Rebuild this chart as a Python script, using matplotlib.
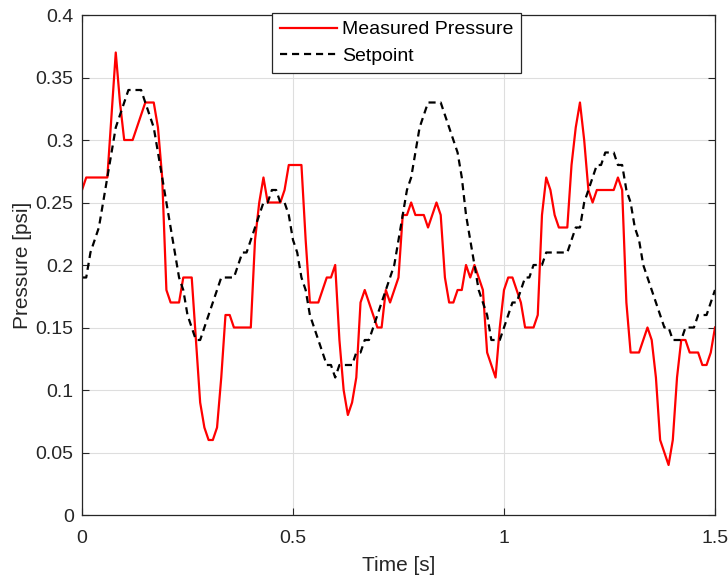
import numpy as np
import matplotlib
matplotlib.use("Agg")
import matplotlib.pyplot as plt

plt.rcParams['font.family'] = ['Liberation Sans', 'DejaVu Sans']

time_step = 0.01
measured = [
    0.26, 0.27, 0.27, 0.27, 0.27, 0.27, 0.27, 0.32, 0.37, 0.33,
    0.30, 0.30, 0.30, 0.31, 0.32, 0.33, 0.33, 0.33, 0.31, 0.27,
    0.18, 0.17, 0.17, 0.17, 0.19, 0.19, 0.19, 0.14, 0.09, 0.07,
    0.06, 0.06, 0.07, 0.11, 0.16, 0.16, 0.15, 0.15, 0.15, 0.15,
    0.15, 0.22, 0.25, 0.27, 0.25, 0.25, 0.25, 0.25, 0.26, 0.28,
    0.28, 0.28, 0.28, 0.22, 0.17, 0.17, 0.17, 0.18, 0.19, 0.19,
    0.20, 0.14, 0.10, 0.08, 0.09, 0.11, 0.17, 0.18, 0.17, 0.16,
    0.15, 0.15, 0.18, 0.17, 0.18, 0.19, 0.24, 0.24, 0.25, 0.24,
    0.24, 0.24, 0.23, 0.24, 0.25, 0.24, 0.19, 0.17, 0.17, 0.18,
    0.18, 0.20, 0.19, 0.20, 0.19, 0.18, 0.13, 0.12, 0.11, 0.15,
    0.18, 0.19, 0.19, 0.18, 0.17, 0.15, 0.15, 0.15, 0.16, 0.24,
    0.27, 0.26, 0.24, 0.23, 0.23, 0.23, 0.28, 0.31, 0.33, 0.30,
    0.26, 0.25, 0.26, 0.26, 0.26, 0.26, 0.26, 0.27, 0.26, 0.17,
    0.13, 0.13, 0.13, 0.14, 0.15, 0.14, 0.11, 0.06, 0.05, 0.04,
    0.06, 0.11, 0.14, 0.14, 0.13, 0.13, 0.13, 0.12, 0.12, 0.13,
    0.15,
]
setpoint = [
    0.19, 0.19, 0.21, 0.22, 0.23, 0.25, 0.27, 0.29, 0.31, 0.32,
    0.33, 0.34, 0.34, 0.34, 0.34, 0.33, 0.32, 0.31, 0.29, 0.27,
    0.25, 0.23, 0.21, 0.19, 0.18, 0.16, 0.15, 0.14, 0.14, 0.15,
    0.16, 0.17, 0.18, 0.19, 0.19, 0.19, 0.19, 0.20, 0.21, 0.21,
    0.22, 0.23, 0.24, 0.25, 0.25, 0.26, 0.26, 0.25, 0.25, 0.24,
    0.22, 0.21, 0.19, 0.18, 0.16, 0.15, 0.14, 0.13, 0.12, 0.12,
    0.11, 0.12, 0.12, 0.12, 0.12, 0.13, 0.13, 0.14, 0.14, 0.15,
    0.16, 0.17, 0.18, 0.19, 0.20, 0.22, 0.24, 0.26, 0.27, 0.29,
    0.31, 0.32, 0.33, 0.33, 0.33, 0.33, 0.32, 0.31, 0.30, 0.29,
    0.27, 0.24, 0.22, 0.20, 0.18, 0.17, 0.16, 0.14, 0.14, 0.14,
    0.15, 0.16, 0.17, 0.17, 0.18, 0.19, 0.19, 0.20, 0.20, 0.20,
    0.21, 0.21, 0.21, 0.21, 0.21, 0.21, 0.22, 0.23, 0.23, 0.25,
    0.26, 0.27, 0.28, 0.28, 0.29, 0.29, 0.29, 0.28, 0.28, 0.26,
    0.25, 0.23, 0.22, 0.20, 0.19, 0.18, 0.17, 0.16, 0.15, 0.15,
    0.14, 0.14, 0.14, 0.15, 0.15, 0.15, 0.16, 0.16, 0.16, 0.17,
    0.18,
]
x_ticks = [0, 0.5, 1, 1.5]
x_tick_labels = ['0', '0.5', '1', '1.5']
y_ticks = [0, 0.05, 0.1, 0.15, 0.2, 0.25, 0.3, 0.35, 0.4]
y_tick_labels = ['0', '0.05', '0.1', '0.15', '0.2', '0.25', '0.3', '0.35', '0.4']

t = np.arange(len(measured)) * time_step

fig = plt.figure(figsize=(7.28, 5.8), dpi=100)
ax = fig.add_axes([82/728, 1 - 515/580, (715-82)/728, (515-15)/580])

dark = '#262626'
ax.plot(t, measured, color='#ff0000', lw=1.6, label='Measured Pressure')
ax.plot(t, setpoint, color='black', lw=1.6, ls=(0, (3.2, 2.2)), label='Setpoint')

ax.set_xlim(0, 1.5)
ax.set_ylim(0, 0.4)
ax.set_xticks(x_ticks)
ax.set_xticklabels(x_tick_labels)
ax.set_yticks(y_ticks)
ax.set_yticklabels(y_tick_labels)
ax.grid(True, color='#dedede', lw=0.8)
ax.set_axisbelow(True)
ax.tick_params(direction='in', length=5, width=0.8, colors=dark, labelsize=14,
               top=True, right=True, labeltop=False, labelright=False)
ax.tick_params(axis='y', pad=6)
ax.tick_params(axis='x', pad=10.5)
for s in ax.spines.values():
    s.set_color(dark)
    s.set_linewidth(0.9)

ax.set_xlabel('Time [s]', fontsize=15, color=dark, labelpad=7)
ax.set_ylabel('Pressure [psi]', fontsize=15, color=dark, labelpad=3)

leg = ax.legend(loc='upper center', bbox_to_anchor=(0.4975, 1.004), fontsize=14,
                frameon=True, fancybox=False, framealpha=1, edgecolor=dark,
                handlelength=2.9, handletextpad=0.3, borderpad=0.4,
                labelspacing=0.45, borderaxespad=0)
leg.get_frame().set_linewidth(0.9)

fig.savefig('out.png', dpi=100)
